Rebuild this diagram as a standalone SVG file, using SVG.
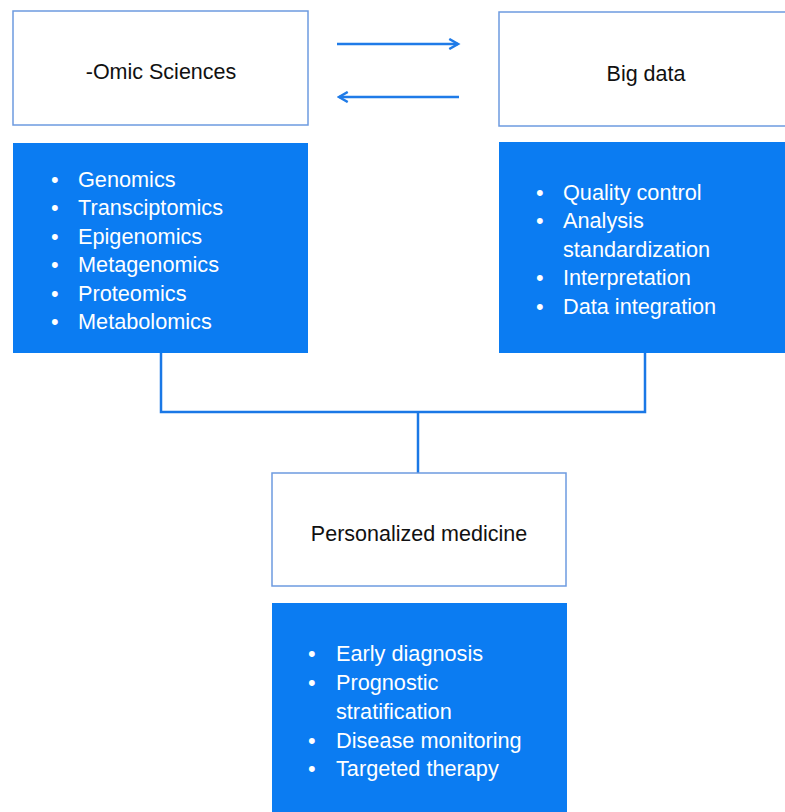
<svg xmlns="http://www.w3.org/2000/svg" width="785" height="812" viewBox="0 0 785 812">
<style>
.box{fill:#ffffff;stroke:#6d9be0;stroke-width:1.5}
.panel{fill:#0b7cf2}
.title{font-family:"Liberation Sans",Arial,sans-serif;font-size:21.5px;fill:#111;text-anchor:middle}
.item{font-family:"Liberation Sans",Arial,sans-serif;font-size:21.7px;fill:#ffffff}
.conn{fill:none;stroke:#1a78e6;stroke-width:2.5}
.arr{fill:none;stroke:#1f7be8;stroke-width:2.5}
</style>
<defs>
<marker id="head" viewBox="0 0 10 10" refX="8" refY="5" markerWidth="5" markerHeight="5" orient="auto-start-reverse" markerUnits="strokeWidth">
<path d="M1,1 L8,5 L1,9" fill="none" stroke="#1f7be8" stroke-width="2"/>
</marker>
</defs>
<rect width="785" height="812" fill="#ffffff"/>
<g id="connectors">
<path class="conn" d="M161,353 V412 H645 V353"/>
<path class="conn" d="M418,412 V473"/>
<line class="arr" x1="337" y1="44" x2="458" y2="44" marker-end="url(#head)"/>
<line class="arr" x1="459" y1="97" x2="339" y2="97" marker-end="url(#head)"/>
</g>
<g id="omic">
<rect class="box" x="13" y="11" width="295" height="114"/>
<text class="title" x="161" y="79">-Omic Sciences</text>
</g>
<g id="omic-list">
<rect class="panel" x="13" y="143" width="295" height="210"/>
<g class="item">
<text x="51" y="187">•</text><text x="78" y="187">Genomics</text>
<text x="51" y="215">•</text><text x="78" y="215">Transciptomics</text>
<text x="51" y="244">•</text><text x="78" y="244">Epigenomics</text>
<text x="51" y="272">•</text><text x="78" y="272">Metagenomics</text>
<text x="51" y="301">•</text><text x="78" y="301">Proteomics</text>
<text x="51" y="329">•</text><text x="78" y="329">Metabolomics</text>
</g>
</g>
<g id="bigdata">
<rect class="box" x="499" y="12" width="290" height="114"/>
<text class="title" x="646" y="81">Big data</text>
</g>
<g id="bigdata-list">
<rect class="panel" x="499" y="142" width="290" height="211"/>
<g class="item">
<text x="536" y="200">•</text><text x="563" y="200">Quality control</text>
<text x="536" y="228">•</text><text x="563" y="228">Analysis</text>
<text x="563" y="257">standardization</text>
<text x="536" y="285">•</text><text x="563" y="285">Interpretation</text>
<text x="536" y="314">•</text><text x="563" y="314">Data integration</text>
</g>
</g>
<g id="personalized">
<rect class="box" x="272" y="473" width="294" height="113"/>
<text class="title" x="419" y="541">Personalized medicine</text>
</g>
<g id="personalized-list">
<rect class="panel" x="272" y="603" width="295" height="215"/>
<g class="item">
<text x="308" y="661">•</text><text x="336" y="661">Early diagnosis</text>
<text x="308" y="690">•</text><text x="336" y="690">Prognostic</text>
<text x="336" y="719">stratification</text>
<text x="308" y="748">•</text><text x="336" y="748">Disease monitoring</text>
<text x="308" y="776">•</text><text x="336" y="776">Targeted therapy</text>
</g>
</g>
</svg>
